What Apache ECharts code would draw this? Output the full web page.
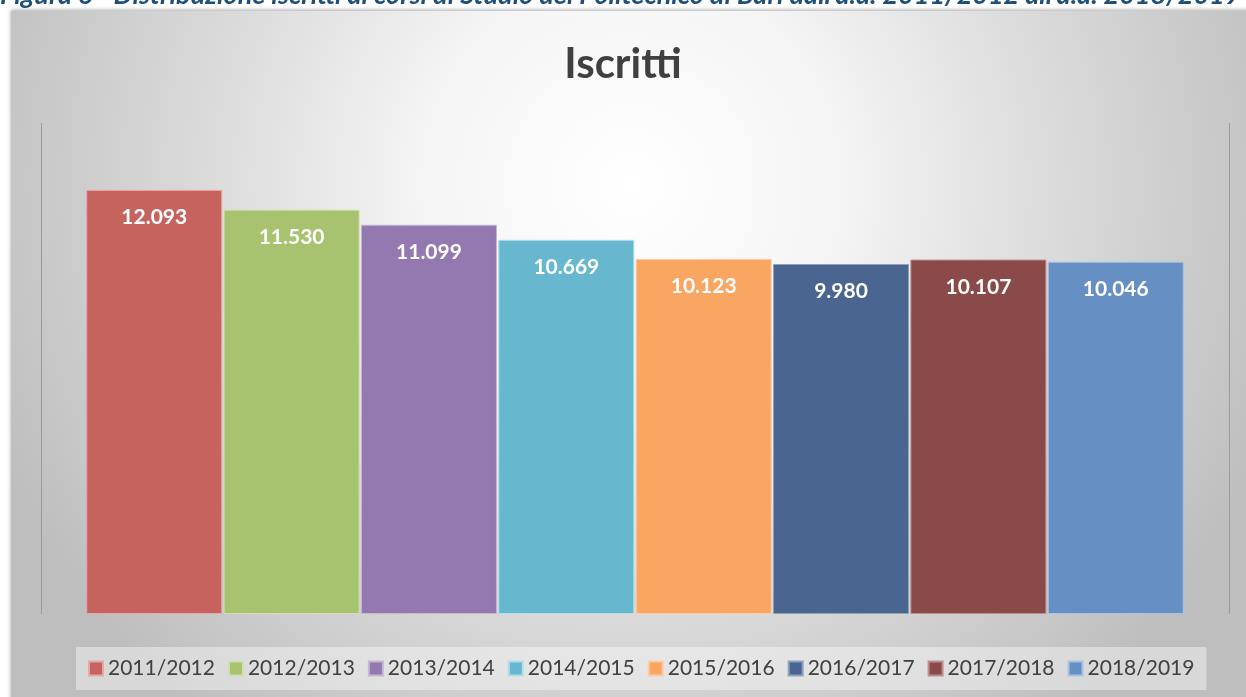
<!DOCTYPE html>
<html>
<head>
<meta charset="utf-8">
<script src="https://cdn.jsdelivr.net/npm/echarts@6/dist/echarts.min.js"></script>
<style>
  html, body { margin: 0; padding: 0; background: #fff; }
  #chart { width: 1246px; height: 697px; }
</style>
</head>
<body>
<div id="chart"></div>
<script>
// anni accademici e iscritti
var years = ['2011/2012', '2012/2013', '2013/2014', '2014/2015', '2015/2016', '2016/2017', '2017/2018', '2018/2019'];
var iscritti = [12093, 11530, 11099, 10669, 10123, 9980, 10107, 10046];
var colors = ['#C6635F', '#A7C36F', '#9379B0', '#67B8CF', '#F8A662', '#4A6690', '#8B4A4A', '#6690C4'];
var borders = ['#E2A9A7', '#CFE0B0', '#C4B6D6', '#B1DDE9', '#FBCBA4', '#8DA2BF', '#BE8D8D', '#A9C2E2'];
var caption = "Figura 6 - Distribuzione iscritti ai corsi di Studio del Politecnico di Bari dall'a.a. 2011/2012 all'a.a. 2018/2019";

function fmt(v) {
  return String(v).replace(/\B(?=(\d{3})+(?!\d))/g, '.');
}

var chart = echarts.init(document.getElementById('chart'));

var series = years.map(function (y, i) {
  return {
    name: y,
    type: 'bar',
    barWidth: 136,
    barGap: '1%',
    itemStyle: { color: colors[i], borderColor: borders[i], borderWidth: 1 },
    label: {
      show: true,
      position: 'insideTop',
      distance: 17,
      color: '#fff',
      fontFamily: 'Lato',
      fontWeight: 'bold',
      fontSize: 21,
      formatter: function (p) { return fmt(p.value); }
    },
    data: [iscritti[i]]
  };
});

chart.setOption({
  animation: false,
  color: colors,
  graphic: [
    {
      type: 'rect',
      shape: { x: 11, y: 11, width: 1240, height: 690 },
      style: {
        fill: {
          type: 'radial', x: 0.5, y: 0.25, r: 1.0,
          colorStops: [
            { offset: 0, color: '#ffffff' },
            { offset: 0.3, color: '#f5f5f5' },
            { offset: 0.6, color: '#dcdcdc' },
            { offset: 1, color: '#bebebe' }
          ]
        },
        shadowBlur: 4,
        shadowColor: 'rgba(0,0,0,0.35)',
        shadowOffsetY: -1
      },
      z: -10
    },
    {
      type: 'text',
      x: 0,
      y: -18,
      style: {
        text: caption,
        fontFamily: 'Lato',
        fontStyle: 'italic',
        fontWeight: 'bold',
        fontSize: 27,
        fill: '#1F4E79'
      }
    }
  ],
  title: {
    text: 'Iscritti',
    left: 'center',
    top: 38,
    textStyle: { fontFamily: 'Lato', fontWeight: 'bold', fontSize: 42, color: '#404040' }
  },
  legend: {
    bottom: 7,
    left: 76,
    itemWidth: 14,
    itemHeight: 14,
    itemGap: 13,
    padding: [11, 12],
    backgroundColor: 'rgba(255,255,255,0.4)',
    icon: 'rect',
    textStyle: { fontFamily: 'Lato', fontSize: 21, color: '#404040' },
    data: years
  },
  grid: { left: 41, right: 17, top: 123, bottom: 83 },
  xAxis: {
    type: 'category',
    data: ['Iscritti'],
    axisLine: { show: false },
    axisTick: { show: false },
    axisLabel: { show: false },
    splitLine: { show: true, interval: 0, lineStyle: { color: '#9a9a9a', width: 1 } }
  },
  yAxis: {
    type: 'value',
    min: 0,
    max: 14000,
    show: false
  },
  series: series
});
</script>
</body>
</html>
